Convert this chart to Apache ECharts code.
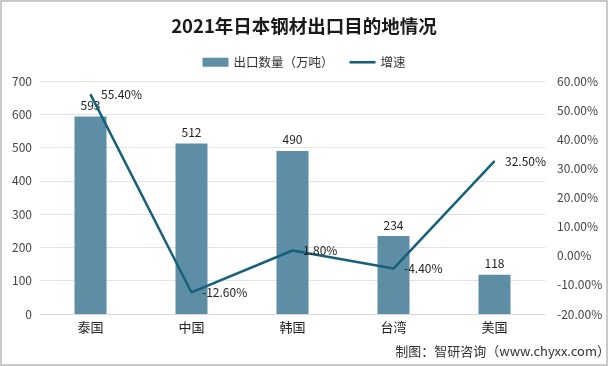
<!DOCTYPE html>
<html><head><meta charset="utf-8">
<script src="https://cdn.jsdelivr.net/npm/echarts@6/dist/echarts.min.js"></script>
<style>html,body{margin:0;padding:0;background:#fff;}#c{width:608px;height:366px;box-sizing:border-box;border:2px solid #c9c9c9;}</style>
</head><body><div id="c"></div>
<script>
const categories = ['泰国','中国','韩国','台湾','美国'];
const exportVolume = [593, 512, 490, 234, 118];
const growthRate = [55.40, -12.60, 1.80, -4.40, 32.50];
const F = '"Noto Sans CJK SC", "Microsoft YaHei", sans-serif';
const chart = echarts.init(document.getElementById('c'));
chart.setOption({
  animation: false,
  title: { text: '2021年日本钢材出口目的地情况', left: 'center', top: 10,
    textStyle: { fontFamily: F, fontSize: 18.5, fontWeight: 'bold', color: '#1a1a1a' } },
  legend: { top: 49, left: 'center', itemWidth: 26, itemHeight: 9, itemGap: 16,
    textStyle: { fontFamily: F, fontSize: 12.5, color: '#333' },
    data: [{ name: '出口数量（万吨）', icon: 'rect' },
           { name: '增速', icon: 'path://M0 0 H30 V3 H0 Z', itemStyle: { color: '#17607a' } }] },
  graphic: [{ type: 'text', right: -4, bottom: 6,
    style: { text: '制图：智研咨询（www.chyxx.com）', font: '13px ' + F, fill: '#333' } }],
  grid: { left: 38, right: 61, top: 79, bottom: 50, containLabel: false, outerBoundsMode: 'none' },
  xAxis: { type: 'category', data: categories,
    axisLine: { lineStyle: { color: '#d9d9d9' } }, axisTick: { show: false },
    axisLabel: { fontFamily: F, fontSize: 13, color: '#222', margin: 7 } },
  yAxis: [
    { type: 'value', min: 0, max: 700, interval: 100,
      axisLine: { show: false }, axisTick: { show: false },
      splitLine: { lineStyle: { color: '#e3e3e3' } },
      axisLabel: { fontFamily: F, fontSize: 12, color: '#444', margin: 8 } },
    { type: 'value', min: -20, max: 60, interval: 10,
      axisLine: { show: false }, axisTick: { show: false }, splitLine: { show: false },
      axisLabel: { fontFamily: F, fontSize: 12, color: '#444', margin: 12,
        formatter: v => v.toFixed(2) + '%' } }
  ],
  series: [
    { name: '出口数量（万吨）', type: 'bar', data: exportVolume, barWidth: 32,
      itemStyle: { color: '#5e8ea6' },
      label: { show: true, position: 'top', distance: 5, fontFamily: F, fontSize: 12, color: '#222' } },
    { name: '增速', type: 'line', yAxisIndex: 1, data: growthRate,
      symbol: 'circle', symbolSize: 1,
      lineStyle: { color: '#17607a', width: 2.5 }, itemStyle: { color: '#17607a' },
      label: { show: true, position: 'right', distance: 10, fontFamily: F, fontSize: 12, color: '#222',
        formatter: p => p.value.toFixed(2) + '%' } }
  ]
});
</script></body></html>
